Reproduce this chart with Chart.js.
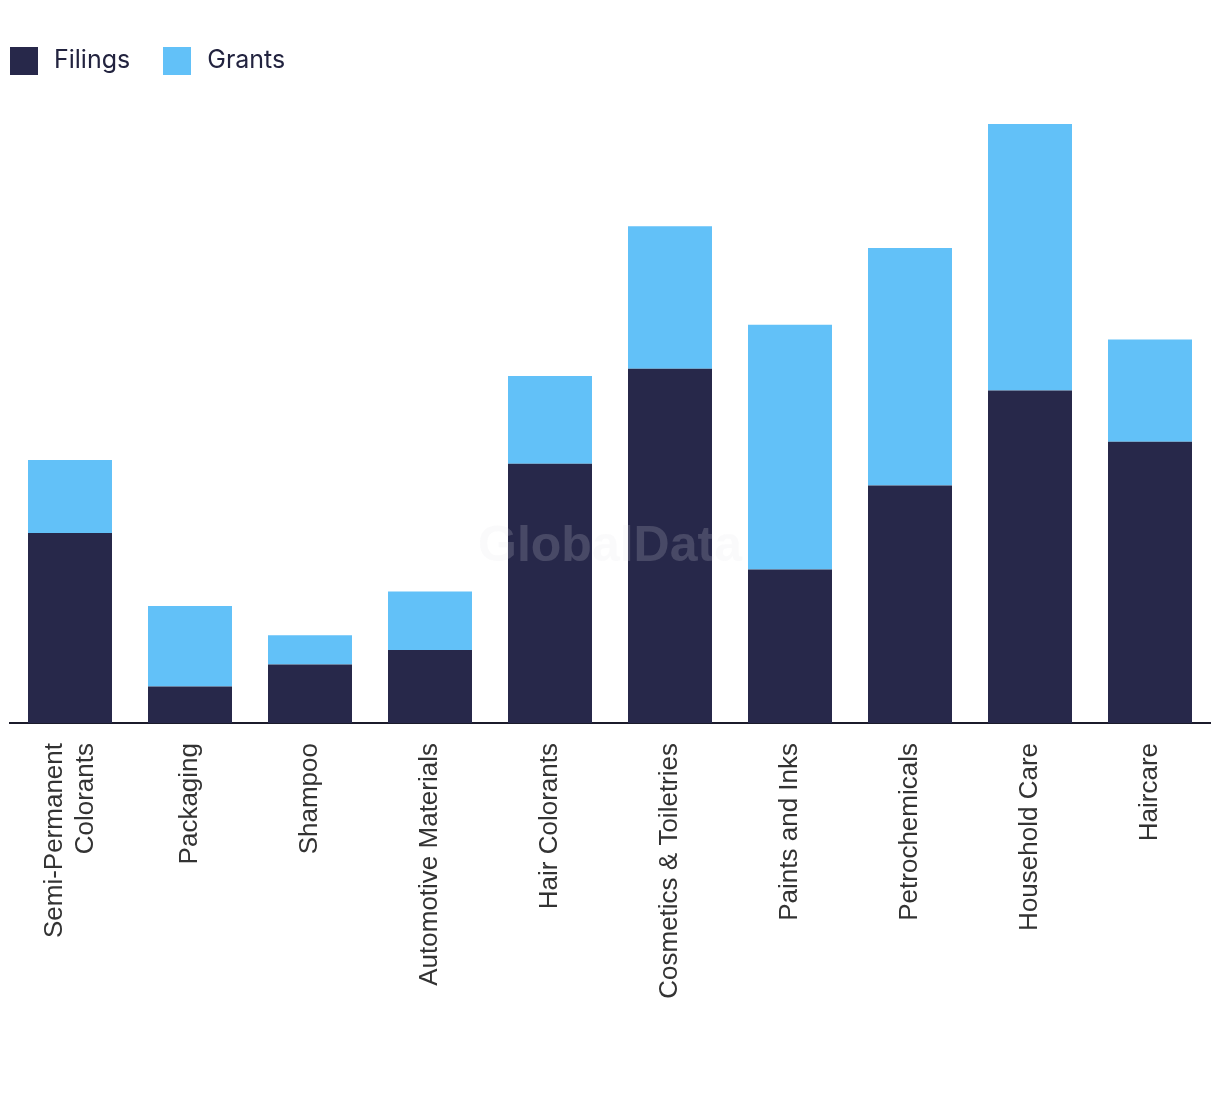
<!DOCTYPE html>
<html>
<head>
<meta charset="utf-8">
<script src="https://cdn.jsdelivr.net/npm/chart.js@4.4.1/dist/chart.umd.min.js"></script>
<style>
  html, body { margin: 0; padding: 0; background: #fff; }
  #wrap { position: relative; width: 1220px; height: 1094px; }
  #legend { position: absolute; left: 10px; top: 46px; display: flex; font-family: Inter, "Noto Sans", sans-serif; font-size: 25px; color: #22233f; }
  .item { display: flex; align-items: center; margin-right: 33px; }
  .item span { position: relative; top: -2px; }
  .box { width: 28px; height: 28px; margin-right: 16px; }
</style>
</head>
<body>
<div id="wrap">
  <canvas id="chart" width="1220" height="1094"></canvas>
  <div id="legend"></div>
</div>
<script>
const CATEGORIES = [
  ['Semi-Permanent', 'Colorants'],
  'Packaging',
  'Shampoo',
  'Automotive Materials',
  'Hair Colorants',
  'Cosmetics & Toiletries',
  'Paints and Inks',
  'Petrochemicals',
  'Household Care',
  'Haircare',
];
const FILINGS = [52, 10, 16, 20, 71, 97, 42, 65, 91, 77];
const GRANTS = [20, 22, 8, 16, 24, 39, 67, 65, 73, 28];

const NAVY = '#27284a';
const BLUE = '#62c1f8';

// faint watermark over the bars
const watermark = {
  id: 'watermark',
  afterDatasetsDraw(chart) {
    const { ctx } = chart;
    ctx.save();
    ctx.font = 'bold 50px "Liberation Sans", Arial, sans-serif';
    ctx.fillStyle = 'rgba(225, 225, 232, 0.18)';
    ctx.textAlign = 'center';
    ctx.textBaseline = 'middle';
    ctx.fillText('GlobalData', 610, 547);
    ctx.restore();
  },
};

// center two-line rotated labels on their tick
const centerMultiline = {
  id: 'centerMultiline',
  beforeDraw(chart) {
    const scale = chart.scales.x;
    const items = scale.getLabelItems();
    if (items._centered) return;
    items.forEach((item) => {
      const lines = Array.isArray(item.label) ? item.label.length : 1;
      if (lines > 1) item.options.translation[0] -= (lines - 1) * item.font.lineHeight / 2;
    });
    items._centered = true;
  },
};

const datasets = [
  { label: 'Filings', data: FILINGS, backgroundColor: NAVY },
  { label: 'Grants', data: GRANTS, backgroundColor: BLUE },
];

document.getElementById('legend').innerHTML = datasets
  .map((ds) => `<div class="item"><div class="box" style="background:${ds.backgroundColor}"></div><span>${ds.label}</span></div>`)
  .join('');

new Chart(document.getElementById('chart'), {
  type: 'bar',
  data: {
    labels: CATEGORIES,
    datasets: datasets.map((ds) => ({
      ...ds,
      categoryPercentage: 1,
      barPercentage: 0.7,
      borderWidth: 0,
    })),
  },
  plugins: [watermark, centerMultiline],
  options: {
    responsive: false,
    animation: false,
    layout: { padding: { top: 102, left: 10, right: 10, bottom: 0 } },
    plugins: {
      legend: { display: false },
      tooltip: { enabled: false },
    },
    scales: {
      x: {
        stacked: true,
        grid: { display: false },
        border: { display: true, color: '#1b1b2b', width: 2 },
        ticks: {
          minRotation: 90,
          maxRotation: 90,
          autoSkip: false,
          padding: 12,
          color: '#333',
          font: { family: '"Liberation Sans", Arial, sans-serif', size: 26 },
        },
        afterFit(scale) { scale.height = 371; },
      },
      y: {
        stacked: true,
        display: false,
        min: 0,
        max: 170,
      },
    },
  },
});
</script>
</body>
</html>
